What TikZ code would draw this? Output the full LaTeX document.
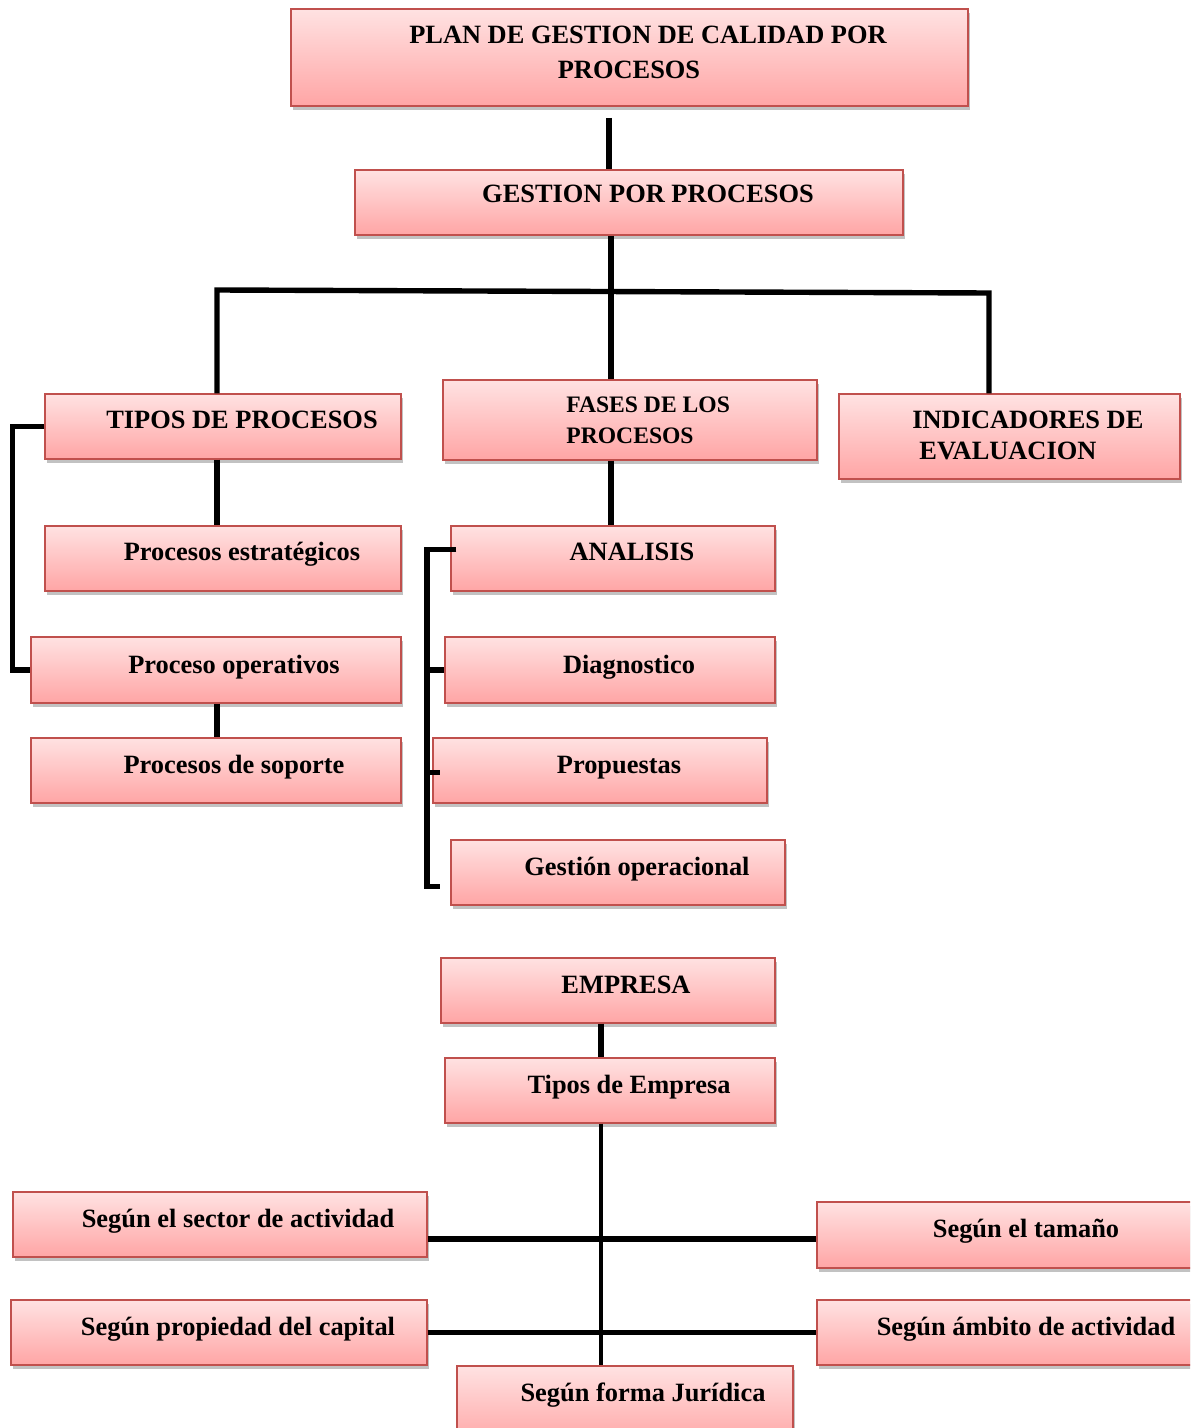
\documentclass[tikz,border=0pt]{standalone}
\usepackage{fontspec}
\setmainfont{Liberation Serif}
\usetikzlibrary{fit,shadows}
\definecolor{boxline}{RGB}{192,80,77}
\definecolor{boxtop}{RGB}{255,226,226}
\definecolor{boxbot}{RGB}{255,165,165}
\tikzset{
  box/.style={draw=boxline, line width=0.7pt, top color=boxtop, bottom color=boxbot,
    inner sep=0pt, drop shadow={shadow xshift=0.9pt, shadow yshift=-1.8pt, fill=black!60, opacity=0.4}},
  lbl/.style={font=\fontsize{13.2}{16}\selectfont\bfseries, anchor=base, inner sep=0pt},
  lblsmall/.style={lbl, font=\fontsize{11.8}{14}\selectfont\bfseries},
  conn/.style={line width=2.7pt, black},
}

\begin{document}
\begin{tikzpicture}[x=0.5pt, y=-0.5pt]
\useasboundingbox (0,0) rectangle (1190,1428);
\clip (0,0) rectangle (1190,1428);
% upper chart
\node[box, fit={(291,9) (968,106)}] (plan) {};
\node[lbl] (plan-a) at (648,44) {PLAN DE GESTION DE CALIDAD POR};
\node[lbl] (plan-b) at (629,79) {PROCESOS};
\node[box, fit={(355,170) (903,235)}] (gpp) {};
\node[lbl] (gpp-t) at (648,203) {GESTION POR PROCESOS};
\node[box, fit={(45,394) (401,459)}] (tipos) {};
\node[lbl] (tipos-t) at (242,428) {TIPOS DE PROCESOS};
\node[box, fit={(443,380) (817,460)}] (fases) {};
\node[lblsmall, anchor=base west] (fases-a) at (566,412) {FASES DE LOS};
\node[lblsmall, anchor=base west] (fases-b) at (566,443) {PROCESOS};
\node[box, fit={(839,394) (1180,479)}] (ind) {};
\node[lbl, anchor=base west] (ind-a) at (912,428) {INDICADORES DE};
\node[lbl, anchor=base west] (ind-b) at (919,459) {EVALUACION};
\node[box, fit={(45,526) (401,591)}] (estr) {};
\node[lbl] (estr-t) at (242,560) {Procesos estratégicos};
\node[box, fit={(31,637) (401,703)}] (oper) {};
\node[lbl] (oper-t) at (234,673) {Proceso operativos};
\node[box, fit={(31,738) (401,803)}] (sop) {};
\node[lbl] (sop-t) at (234,773) {Procesos de soporte};
\node[box, fit={(451,526) (775,591)}] (ana) {};
\node[lbl] (ana-t) at (632,560) {ANALISIS};
\node[box, fit={(445,637) (775,703)}] (diag) {};
\node[lbl] (diag-t) at (629,673) {Diagnostico};
\node[box, fit={(433,738) (767,803)}] (prop) {};
\node[lbl] (prop-t) at (619,773) {Propuestas};
\node[box, fit={(451,840) (785,905)}] (gest) {};
\node[lbl] (gest-t) at (637,875) {Gestión operacional};
% lower chart
\node[box, fit={(441,958) (775,1023)}] (emp) {};
\node[lbl] (emp-t) at (626,993) {EMPRESA};
\node[box, fit={(445,1058) (775,1123)}] (temp) {};
\node[lbl] (temp-t) at (629,1093) {Tipos de Empresa};
\node[box, fit={(13,1192) (427,1257)}] (sector) {};
\node[lbl] (sector-t) at (238,1227) {Según el sector de actividad};
\node[box, fit={(817,1202) (1200,1268)}] (tam) {};
\node[lbl] (tam-t) at (1026,1237) {Según el tamaño};
\node[box, fit={(11,1300) (427,1365)}] (cap) {};
\node[lbl] (cap-t) at (238,1335) {Según propiedad del capital};
\node[box, fit={(817,1300) (1200,1365)}] (amb) {};
\node[lbl] (amb-t) at (1026,1335) {Según ámbito de actividad};
\node[box, fit={(457,1366) (793,1445)}] (jur) {};
\node[lbl] (jur-t) at (643,1401) {Según forma Jurídica};

% connectors
\coordinate (plan-stub) at (609,118);
\coordinate (stem) at (611,0);
\coordinate (busL) at (217,290);
\coordinate (busR) at (989,293);
\coordinate (fbar) at (427,0);
\coordinate (estem) at (601,0);
\draw[conn] (plan-stub) -- (plan-stub |- gpp.north);
\draw[conn] (stem |- gpp.south) -- (stem |- fases.north);
\draw[conn] (busL |- tipos.north) -- (busL) -- (busR) -- (busR |- ind.north);
\draw[conn] (busL |- tipos.south) -- (busL |- estr.north);
\draw[conn] (busL |- oper.south) -- (busL |- sop.north);
\draw[conn] (tipos.west) -- ++(-32,0) |- (oper.west);
\draw[conn] (stem |- fases.south) -- (stem |- ana.north);
\draw[conn] ([xshift=3pt, yshift=4.5pt]ana.west) -- ([yshift=4.5pt]fbar |- ana.west)
  -- ([yshift=-7pt]fbar |- gest.west) -- ([xshift=-5pt, yshift=-7pt]gest.west);
\draw[conn] (fbar |- diag.west) -- (diag.west);
\draw[conn] ([yshift=-1pt]fbar |- prop.west) -- ([xshift=4pt, yshift=-1pt]prop.west);
\draw[conn] (estem |- emp.south) -- (estem |- temp.north);
\draw[conn, line width=2.2pt] (estem |- temp.south) -- (estem |- jur.north);
\draw[conn] ([yshift=-2pt]sector.east |- tam.west) -- ([yshift=-2pt]tam.west);
\draw[conn] (cap.east) -- (amb.west);
\end{tikzpicture}
\end{document}
